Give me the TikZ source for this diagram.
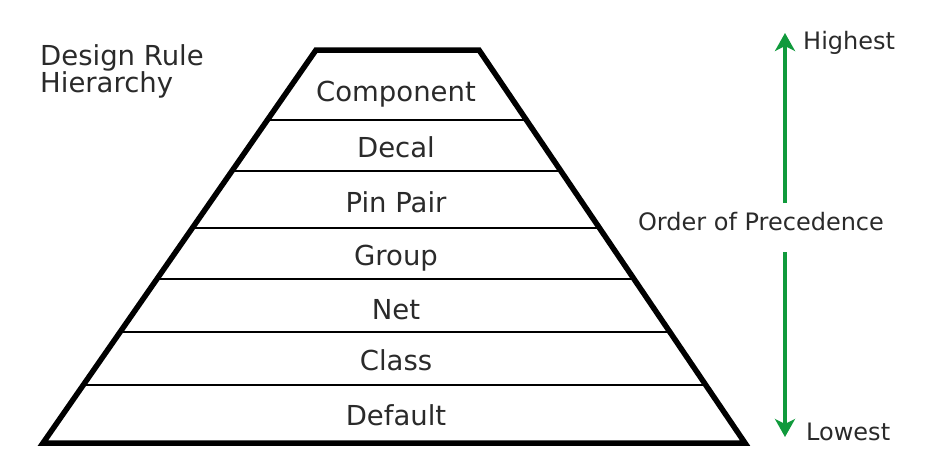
\documentclass[tikz,border=0pt]{standalone}
\usepackage{fontspec}
\setmainfont{DejaVu Sans}
\usetikzlibrary{arrows.meta}
\definecolor{txt}{HTML}{2A2A2A}
\definecolor{grn}{HTML}{109A3C}
\tikzset{
  lbl/.style={text=txt, font=\fontsize{27.5}{30}\selectfont, inner sep=0pt},
  side/.style={text=txt, font=\fontsize{24}{26}\selectfont, inner sep=0pt},
  outline/.style={draw=black, line width=5.5pt, line join=miter},
  sep/.style={draw=black, line width=2.8pt},
  prec/.style={draw=grn, line width=3.2pt, -{Stealth[length=18pt,width=20pt,inset=5pt]}}
}
\begin{document}
\begin{tikzpicture}[x=1pt,y=-1pt]
\useasboundingbox (0,0) rectangle (940,475);
% trapezoid corners
\coordinate (TL) at (316,50);
\coordinate (TR) at (479,50);
\coordinate (BR) at (745,443);
\coordinate (BL) at (43,443);
% separator lines
\foreach \y [count=\i] in {120,171,228,279,332,385}{
  \path (TL) -- (BL) coordinate[pos={(\y-50)/393}] (L\i);
  \path (TR) -- (BR) coordinate[pos={(\y-50)/393}] (R\i);
  \draw[sep] (L\i) -- (R\i);
}
\draw[outline] (TL) -- (TR) -- (BR) -- (BL) -- cycle;
% labels
\node[lbl] (comp) at (396,94) {Component};
\node[lbl] (decal) at (396,147) {Decal};
\node[lbl] (pin) at (396,202) {Pin Pair};
\node[lbl] (group) at (396,258) {Group};
\node[lbl] (net) at (396,310) {Net};
\node[lbl] (class) at (396,360) {Class};
\node[lbl] (default) at (396,415) {Default};
\node[text=txt, inner sep=0pt, align=left, anchor=north west, font=\fontsize{27.5}{27}\selectfont] (title) at (40,44) {Design Rule\\Hierarchy};
\node[side, anchor=west] (high) at (803,43) {Highest};
\node[side, anchor=west] (low) at (806,432) {Lowest};
\node[side] (order) at (761,222) {Order of Precedence};
\coordinate (up1) at (785,203);
\coordinate (up2) at (785,33);
\coordinate (dn1) at (785,252);
\coordinate (dn2) at (785,437);
\draw[prec] (up1) -- (up2);
\draw[prec] (dn1) -- (dn2);
\end{tikzpicture}
\end{document}
